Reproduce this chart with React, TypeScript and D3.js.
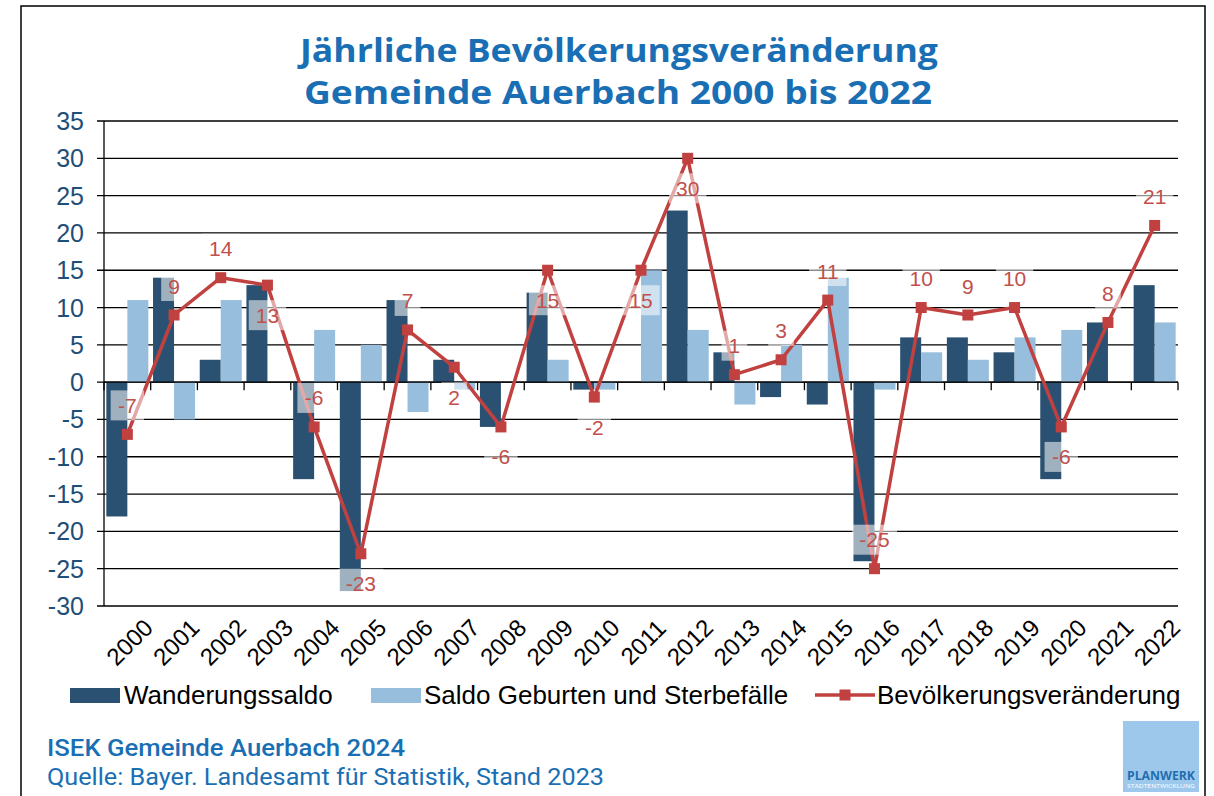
import React from "react";
import * as d3 from "d3";

const years = ["2000", "2001", "2002", "2003", "2004", "2005", "2006", "2007", "2008", "2009", "2010", "2011",
  "2012", "2013", "2014", "2015", "2016", "2017", "2018", "2019", "2020", "2021", "2022"];
const wanderungssaldo = [-18, 14, 3, 13, -13, -28, 11, 3, -6, 12, -1, 0, 23, 4, -2, -3, -24, 6, 6, 4, -13, 8, 13];
const saldoGeburten = [11, -5, 11, 0, 7, 5, -4, -1, 0, 3, -1, 15, 7, -3, 5, 14, -1, 4, 3, 6, 7, 0, 8];
const veraenderung = [-7, 9, 14, 13, -6, -23, 7, 2, -6, 15, -2, 15, 30, 1, 3, 11, -25, 10, 9, 10, -6, 8, 21];
// where Excel put each data label: a = above the marker, b = below
const labelSide = ["a", "a", "a", "b", "a", "b", "a", "b", "b", "b", "b", "b", "b", "a", "a", "a", "a", "a", "a", "a", "b", "a", "a"];
const yTicks = [35, 30, 25, 20, 15, 10, 5, 0, -5, -10, -15, -20, -25, -30];

const W = 1214;
const H = 796;
const left = 104;
const right = 1178;
const top = 121;
const bottom = 606;
const dark = "#2b5172";
const light = "#97bedc";
const red = "#c0413f";
const blue = "#1a6fb4";
const arial = "'Liberation Sans', Arial, sans-serif";

export default function App() {
  const x = d3.scaleBand().domain(years).range([left, right]).padding(0);
  const bw = x.bandwidth();
  const sub = d3.scaleBand().domain(["w", "s"]).range([bw * 0.05, bw * 0.95]).padding(0);
  const y = d3.scaleLinear().domain([-30, 35]).range([bottom, top]);
  const cx = (i: number) => (x(years[i]) as number) + bw / 2;

  const line = d3.line<number>().x((d, i) => cx(i)).y((d) => y(d));

  const barRect = (v: number) => ({ y: Math.min(y(v), y(0)), h: Math.abs(y(v) - y(0)) });

  return (
    <svg width={W} height={H} style={{ position: "absolute", left: 0, top: 0, background: "#fff" }}>
      <rect x={21} y={6} width={1184} height={810} fill="#fff" stroke="#000" strokeWidth={1.5} />

      <text x={619} y={62} textAnchor="middle" fontFamily="'Open Sans', 'DejaVu Sans', sans-serif" fontWeight={700}
        fontSize={33} fill={blue} textLength={638} lengthAdjust="spacingAndGlyphs">Jährliche Bevölkerungsveränderung</text>
      <text x={618} y={104} textAnchor="middle" fontFamily="'Open Sans', 'DejaVu Sans', sans-serif" fontWeight={700}
        fontSize={33} fill={blue} textLength={628} lengthAdjust="spacingAndGlyphs">Gemeinde Auerbach 2000 bis 2022</text>

      {/* grid */}
      {yTicks.map((t) => (
        <g key={t}>
          <line x1={left - 7} x2={right} y1={y(t)} y2={y(t)} stroke="#000" strokeWidth={1.3} />
          <text x={84} y={y(t)} dy="0.36em" textAnchor="end" fontFamily={arial} fontSize={25} fill="#1f4e79">{t}</text>
        </g>
      ))}
      <line x1={left} x2={left} y1={top} y2={bottom} stroke="#000" strokeWidth={1.3} />

      {/* bars */}
      {years.map((yr, i) => {
        const a = barRect(wanderungssaldo[i]);
        const b = barRect(saldoGeburten[i]);
        const x0 = x(yr) as number;
        return (
          <g key={yr}>
            <rect x={x0 + (sub("w") as number)} y={a.y} width={sub.bandwidth()} height={a.h} fill={dark} />
            <rect x={x0 + (sub("s") as number)} y={b.y} width={sub.bandwidth()} height={b.h} fill={light} />
          </g>
        );
      })}

      {/* category ticks on the zero line */}
      {d3.range(years.length + 1).map((i) => (
        <line key={i} x1={left + i * bw} x2={left + i * bw} y1={y(0)} y2={y(0) + 8} stroke="#000" strokeWidth={1.3} />
      ))}
      <line x1={left} x2={right} y1={y(0)} y2={y(0)} stroke="#000" strokeWidth={1.3} />

      {/* total line */}
      <path d={line(veraenderung) as string} fill="none" stroke={red} strokeWidth={3.5} strokeLinejoin="round" />
      {veraenderung.map((v, i) => (
        <rect key={i} x={cx(i) - 5.5} y={y(v) - 5.5} width={11} height={11} fill={red} />
      ))}

      {/* data labels */}
      {veraenderung.map((v, i) => {
        const ly = y(v) + (labelSide[i] === "a" ? -29 : 30);
        const s = String(v);
        const tw = s.length * 11.7 - (v < 0 ? 4 : 0);
        return (
          <g key={i}>
            <rect x={cx(i) - tw / 2 - 7} y={ly - 15} width={tw + 14} height={30} fill="#fff" fillOpacity={0.55} />
            <text x={cx(i)} y={ly} dy="0.36em" textAnchor="middle" fontFamily={arial} fontSize={21} fill="#c0504d">{s}</text>
          </g>
        );
      })}

      {/* year labels */}
      {years.map((yr, i) => (
        <text key={yr} transform={`translate(${cx(i) + 2},642) rotate(-45)`} textAnchor="middle" dy="0.36em"
          fontFamily={arial} fontSize={24} fill="#000">{yr}</text>
      ))}

      {/* legend */}
      <rect x={70} y={688} width={50} height={15} fill={dark} />
      <text x={124} y={695} dy="0.36em" fontFamily={arial} fontSize={26} fill="#000">Wanderungssaldo</text>
      <rect x={371} y={688} width={50} height={15} fill={light} />
      <text x={424} y={695} dy="0.36em" fontFamily={arial} fontSize={26} fill="#000">Saldo Geburten und Sterbefälle</text>
      <line x1={815} x2={875} y1={695} y2={695} stroke={red} strokeWidth={3.5} />
      <rect x={839.5} y={689.5} width={11} height={11} fill={red} />
      <text x={877} y={695} dy="0.36em" fontFamily={arial} fontSize={26} fill="#000">Bevölkerungsveränderung</text>

      {/* footer */}
      <text x={47} y={756} fontFamily="Roboto, sans-serif" fontWeight={500} fontSize={24} fill={blue}
        textLength={358} lengthAdjust="spacingAndGlyphs">ISEK Gemeinde Auerbach 2024</text>
      <text x={47} y={785} fontFamily="Roboto, sans-serif" fontSize={24} fill={blue}
        textLength={557} lengthAdjust="spacingAndGlyphs">Quelle: Bayer. Landesamt für Statistik, Stand 2023</text>

      {/* logo */}
      <rect x={1123} y={721} width={76} height={71} fill="#9dc8ec" />
      <text x={1161} y={780} textAnchor="middle" fontFamily="'Open Sans', sans-serif" fontWeight={700} fontSize={12}
        fill="#1f6fb0" textLength={68} lengthAdjust="spacingAndGlyphs">PLANWERK</text>
      <text x={1161} y={788} textAnchor="middle" fontFamily="'Open Sans', sans-serif" fontSize={5} fill="#fff"
        textLength={68} lengthAdjust="spacingAndGlyphs">STADTENTWICKLUNG</text>
    </svg>
  );
}
